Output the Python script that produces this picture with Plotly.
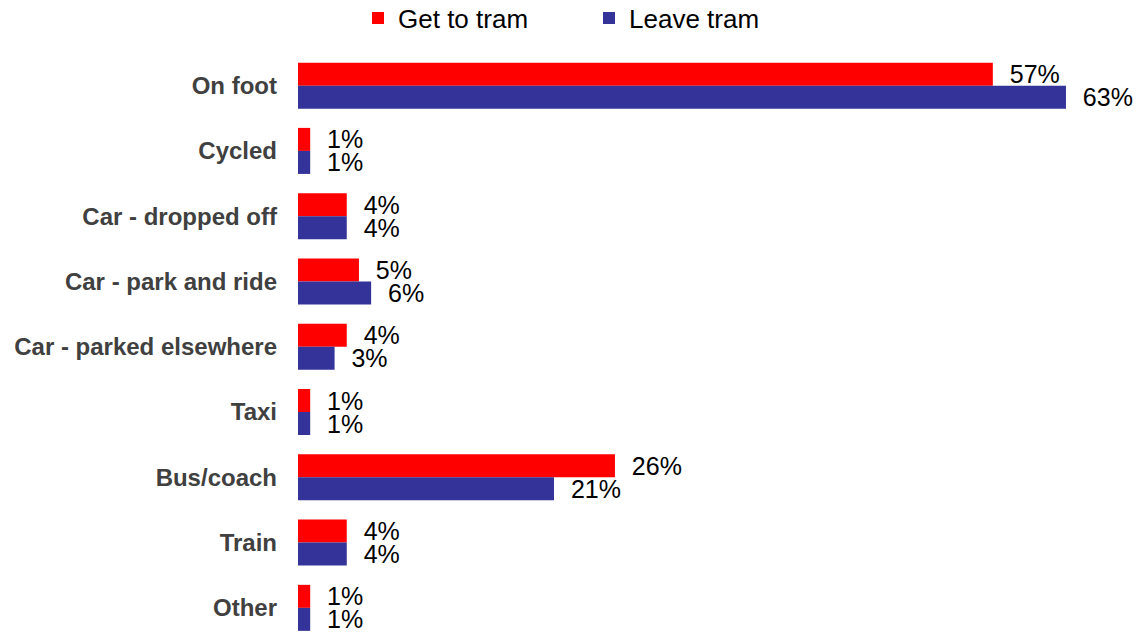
import plotly.graph_objects as go

categories = ["On foot", "Cycled", "Car - dropped off", "Car - park and ride",
              "Car - parked elsewhere", "Taxi", "Bus/coach", "Train", "Other"]
get_to_tram = [57, 1, 4, 5, 4, 1, 26, 4, 1]
leave_tram = [63, 1, 4, 6, 3, 1, 21, 4, 1]

FONT = "Liberation Sans, Arial, sans-serif"

fig = go.Figure()
fig.add_trace(go.Bar(
    y=categories, x=get_to_tram, orientation="h", name="Get to tram",
    marker=dict(color="#FF0000", line=dict(width=0)),
    texttemplate="  %{x}%", textposition="outside", constraintext="none",
    cliponaxis=False, textfont=dict(family=FONT, size=25, color="#000000"),
))
fig.add_trace(go.Bar(
    y=categories, x=leave_tram, orientation="h", name="Leave tram",
    marker=dict(color="#333399", line=dict(width=0)),
    texttemplate="  %{x}%", textposition="outside", constraintext="none",
    cliponaxis=False, textfont=dict(family=FONT, size=25, color="#000000"),
))

fig.update_layout(
    width=1138, height=632,
    margin=dict(l=298, r=0, t=53, b=0, autoexpand=False),
    barmode="group", bargap=0.295, bargroupgap=0,
    plot_bgcolor="white", paper_bgcolor="white",
    font=dict(family=FONT),
    showlegend=True,
    legend=dict(orientation="h", x=(358 - 298) / 840, xanchor="left", xref="paper",
                y=1 + (53 - 18) / 579, yanchor="middle", yref="paper",
                font=dict(family=FONT, size=26, color="#000000"),
                entrywidth=186, entrywidthmode="pixels"),
    xaxis=dict(range=[0, 840 / 12.19], showgrid=False, zeroline=False,
               showticklabels=False, showline=False),
    yaxis=dict(range=[8.37, -0.5], showgrid=False, showline=False,
               ticks="", ticklabelstandoff=20,
               tickfont=dict(family=FONT, size=24, color="#404040", weight="bold")),
)

fig.write_html("out.html", config={"displayModeBar": False},
               post_script="document.body.style.margin='0';document.body.style.overflow='hidden';")
